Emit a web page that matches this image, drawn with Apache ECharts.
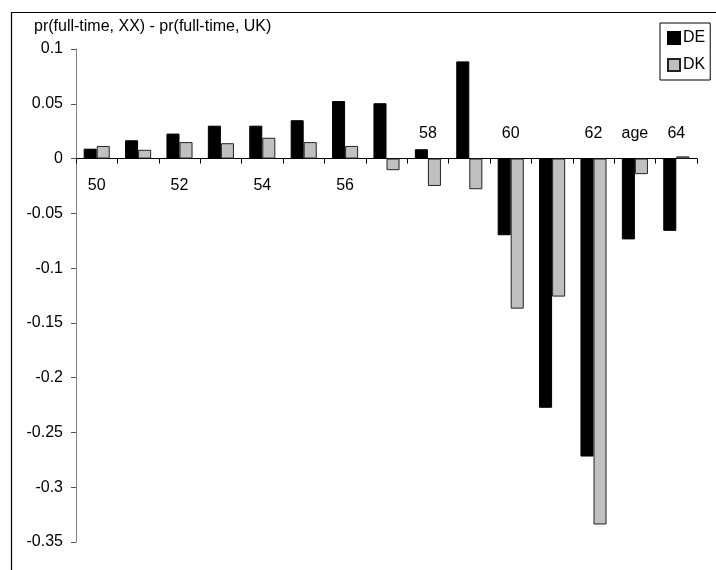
<!DOCTYPE html>
<html>
<head>
<meta charset="utf-8">
<script src="https://cdn.jsdelivr.net/npm/echarts@6/dist/echarts.min.js"></script>
<style>html,body{margin:0;padding:0;background:#fff}#c{width:716px;height:570px}</style>
</head>
<body>
<div id="c"></div>
<script>
var categories = ['50','51','52','53','54','55','56','57','58','59','60','61','62','63','64'];
var tickLabels = ['50','','52','','54','','56','','58','','60','','62','age','64'];
var deValues = [0.009, 0.0167, 0.0228, 0.030, 0.030, 0.035, 0.0525, 0.0505, 0.0085, 0.0887, -0.070, -0.2275, -0.272, -0.0738, -0.066];
var dkValues = [0.0115, 0.008, 0.015, 0.014, 0.019, 0.015, 0.0115, -0.0106, -0.025, -0.028, -0.137, -0.126, -0.334, -0.0142, 0.002];
var yTicks = { min: -0.35, max: 0.1, interval: 0.05 };
var titleText = 'pr(full-time, XX) - pr(full-time, UK)';

var FONT = 'Liberation Sans';
var W = 716, H = 570, GT = 49, GB = 28;
var plotH = H - GT - GB;
// distance from grid bottom up to the zero line (layout helper)
var zeroOffset = -plotH * (0 - yTicks.min) / (yTicks.max - yTicks.min);

var chart = echarts.init(document.getElementById('c'), null, { renderer: 'canvas' });
chart.setOption({
  animation: false,
  backgroundColor: '#fff',
  textStyle: { fontFamily: FONT },
  title: {
    text: titleText, left: 29, top: 14,
    textStyle: { fontFamily: FONT, fontSize: 16, fontWeight: 'normal', color: '#000' }
  },
  graphic: [{
    type: 'rect', left: 9, top: 10, silent: true,
    shape: { width: 800, height: 700 },
    style: { fill: 'none', stroke: '#000', lineWidth: 1.2 }
  }],
  legend: {
    orient: 'vertical', left: 660, top: 23,
    padding: [7, 5, 7, 7],
    itemWidth: 12, itemHeight: 12, itemGap: 11,
    borderColor: '#000', borderWidth: 1,
    textStyle: { fontFamily: FONT, fontSize: 16, color: '#000', padding: [0, 0, 0, -2] },
    data: [{ name: 'DE', icon: 'rect' }, { name: 'DK', icon: 'rect' }]
  },
  grid: { left: 76, right: 19, top: GT, bottom: GB, containLabel: false },
  xAxis: [{
    type: 'category', data: categories, position: 'bottom', offset: zeroOffset,
    axisLine: { onZero: false, lineStyle: { color: '#000', width: 1 } },
    axisTick: { show: true, interval: 0, length: 5, inside: false, lineStyle: { color: '#000' } },
    axisLabel: {
      interval: 0, margin: 19, fontFamily: FONT, fontSize: 16, color: '#000',
      formatter: function (v, i) { return i < 8 ? tickLabels[i] : ''; }
    },
    splitLine: { show: false }
  }, {
    type: 'category', data: categories, position: 'bottom', offset: zeroOffset,
    axisLine: { show: false, onZero: false },
    axisTick: { show: false },
    axisLabel: {
      inside: true, interval: 0, margin: 17, fontFamily: FONT, fontSize: 16, color: '#000',
      formatter: function (v, i) { return i >= 8 ? tickLabels[i] : ''; }
    },
    splitLine: { show: false }
  }],
  yAxis: {
    type: 'value', min: yTicks.min, max: yTicks.max, interval: yTicks.interval,
    axisLine: { show: true, lineStyle: { color: '#808080', width: 1 } },
    axisTick: { show: true, length: 5, lineStyle: { color: '#555' } },
    axisLabel: { margin: 13, fontFamily: FONT, fontSize: 16, color: '#000' },
    splitLine: { show: false }
  },
  series: [{
    name: 'DE', type: 'bar', data: deValues, xAxisIndex: 0,
    barGap: '0%', barCategoryGap: '37%',
    itemStyle: { color: '#000', borderColor: '#000', borderWidth: 1 }
  }, {
    name: 'DK', type: 'bar', data: dkValues, xAxisIndex: 0,
    barGap: '0%', barCategoryGap: '37%',
    itemStyle: { color: '#c0c0c0', borderColor: '#222', borderWidth: 1 }
  }]
});
</script>
</body>
</html>
